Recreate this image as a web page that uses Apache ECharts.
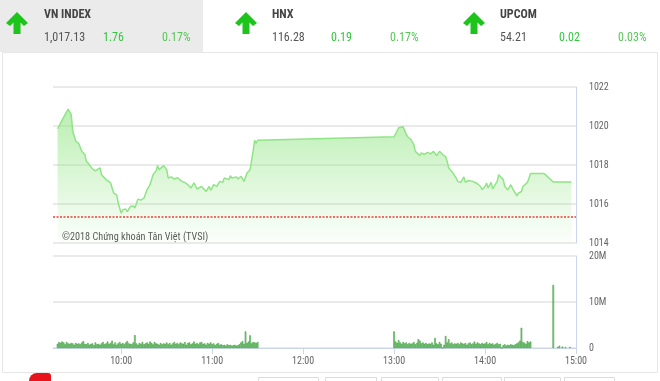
<!DOCTYPE html>
<html>
<head>
<meta charset="utf-8">
<script src="https://cdn.jsdelivr.net/npm/echarts@6/dist/echarts.min.js"></script>
<style>
html,body{margin:0;padding:0;background:#fff;}
#c{width:660px;height:381px;}
</style>
</head>
<body>
<div id="c"></div>
<script>
// ---------- DATA ----------
const timeTicks = ["10:00", "11:00", "12:00", "13:00", "14:00", "15:00"];
const priceTicks = [1014, 1016, 1018, 1020, 1022];
const volumeTicks = [0, 10, 20]; // millions
const refPrice = 1015.37;

const lineTimes = [
  "09:18","09:21","09:25","09:27","09:28","09:30","09:32","09:33","09:34","09:36",
  "09:37","09:39","09:41","09:43","09:44","09:46","09:47","09:50","09:53","09:54",
  "09:55","09:57","09:58","10:00","10:01","10:02","10:03","10:04","10:06","10:08",
  "10:09","10:11","10:13","10:15","10:17","10:19","10:21","10:23","10:24","10:25",
  "10:26","10:28","10:30","10:31","10:33","10:35","10:37","10:38","10:40","10:42",
  "10:44","10:46","10:48","10:50","10:51","10:53","10:56","10:58","10:59","11:01",
  "11:03","11:05","11:07","11:08","11:11","11:12","11:13","11:16","11:17","11:19",
  "11:21","11:23","11:25","11:27","11:28","11:29","11:30",
  "13:00","13:01","13:03","13:04","13:06","13:08","13:09","13:11","13:13","13:14",
  "13:17","13:18","13:20","13:22","13:24","13:26","13:28","13:30","13:32","13:34",
  "13:35","13:36","13:38","13:39","13:41","13:42","13:43","13:44","13:46","13:47",
  "13:49","13:52","13:55","13:57","13:58","14:00","14:01","14:02","14:04","14:05",
  "14:08","14:09","14:10","14:12","14:13","14:15","14:17","14:18","14:21","14:22",
  "14:24","14:25","14:26","14:28","14:29","14:30","14:39","14:45","14:57"
];
const lineValues = [
  1019.86,1020.30,1020.86,1020.60,1019.74,1019.22,1019.10,1019.05,1018.70,1018.54,
  1018.19,1018.02,1017.80,1017.70,1017.68,1017.85,1017.50,1017.25,1017.08,1017.16,
  1016.56,1016.47,1016.05,1015.53,1015.70,1015.60,1015.74,1015.61,1015.87,1015.90,
  1015.79,1016.25,1016.20,1016.30,1016.73,1016.99,1017.50,1017.70,1017.98,1017.76,
  1017.73,1017.97,1017.76,1017.33,1017.39,1017.28,1017.35,1017.33,1017.16,1017.10,
  1016.99,1016.82,1017.08,1016.77,1016.82,1016.90,1016.64,1016.90,1016.70,1016.99,
  1016.90,1017.16,1017.11,1017.33,1017.25,1017.45,1017.33,1017.39,1017.28,1017.42,
  1017.16,1017.59,1017.76,1018.70,1019.27,1019.10,1019.27,
  1019.45,1019.48,1019.91,1020.00,1019.96,1019.57,1019.45,1019.31,1019.05,1018.70,
  1018.48,1018.62,1018.54,1018.65,1018.57,1018.70,1018.48,1018.70,1018.54,1018.42,
  1018.19,1017.85,1017.68,1017.73,1017.33,1017.16,1017.25,1017.11,1017.39,1017.11,
  1017.21,1017.16,1017.04,1016.90,1016.73,1016.90,1017.08,1016.82,1017.11,1016.77,
  1017.16,1017.50,1017.50,1017.25,1016.90,1016.73,1016.99,1016.82,1016.42,1016.56,
  1016.64,1016.90,1016.82,1017.11,1017.33,1017.56,1017.56,1017.13,1017.13
];

// volume (millions), one bar per minute
const volMorningStart = "09:18";
const volMorning = [
  0.9,1.3,1.1,1.4,1.2,0.8,1.3,1.0,0.9,1.1,
  1.0,0.7,1.1,0.9,1.0,0.8,1.2,1.5,0.9,0.8,
  1.1,0.7,0.9,1.0,0.6,1.2,0.8,0.9,0.7,1.0,
  1.3,0.8,1.0,1.4,0.9,1.1,1.6,0.8,1.2,0.7,
  1.0,1.3,0.9,1.1,0.8,1.2,1.5,1.0,0.9,0.8,
  1.2,2.8,1.0,0.7,1.1,0.9,1.3,0.8,1.0,1.2,
  0.9,1.4,1.1,0.8,1.3,1.0,0.9,0.7,1.1,0.8,
  1.0,0.9,1.2,0.8,1.1,0.7,1.0,1.3,0.9,1.1,
  0.8,1.2,1.0,0.9,1.3,0.7,1.1,1.2,0.8,1.0,
  1.4,0.9,1.1,0.8,1.2,1.3,0.9,1.0,0.7,1.1,
  0.9,1.2,0.8,1.0,0.6,0.9,1.1,0.7,0.8,0.6,
  0.7,0.5,0.8,0.6,0.7,0.5,0.6,0.7,0.5,0.6,
  0.8,1.2,1.5,0.9,3.6,1.1,1.4,2.75,1.0,1.3,
  1.2,1.1,1.3
];
const volAfternoonStart = "13:00";
const volAfternoon = [
  3.6,1.4,1.1,1.7,1.2,0.9,1.3,1.0,1.2,0.8,
  1.1,0.9,1.0,1.3,0.8,1.1,1.9,1.6,1.0,1.2,
  0.9,1.1,0.8,1.0,0.9,1.2,0.7,2.2,1.0,0.8,
  1.3,0.9,0.0,0.7,2.6,1.2,1.9,1.0,1.2,0.8,
  1.0,0.9,1.1,0.8,1.2,1.0,0.9,1.1,0.7,1.0,
  1.2,0.8,1.0,1.4,0.9,1.2,1.0,0.8,1.1,0.9,
  1.0,1.3,0.8,1.1,0.9,1.0,0.7,0.9,1.1,0.8,
  0.9,0.0,0.6,0.8,0.5,0.7,0.6,0.8,0.7,0.6,
  0.8,1.0,1.2,1.6,4.4,1.3,1.1,0.9,1.5,1.2,
  1.4
];
const volCloseTimes = ["14:45","14:48","14:49","14:51","14:53","14:56"];
const volClose = [13.7,0.2,0.5,0.3,0.2,0.2];

// ---------- HELPERS ----------
const toMin = t => { const p = t.split(':').map(Number); return p[0] * 60 + p[1]; };
const fmtTime = v => String(Math.floor(v / 60)).padStart(2, '0') + ':' + String(v % 60).padStart(2, '0');

const lineData = lineTimes.map((t, i) => [toMin(t), lineValues[i]]);
const volData = [];
volMorning.forEach((v, i) => volData.push([toMin(volMorningStart) + i, v]));
volAfternoon.forEach((v, i) => volData.push([toMin(volAfternoonStart) + i, v]));
volCloseTimes.forEach((t, i) => volData.push([toMin(t), volClose[i]]));

const tickMins = timeTicks.map(toMin);
const X_MIN = toMin("09:15"), X_MAX = toMin("15:00");

const FONT = '"Liberation Sans Narrow", "Roboto Condensed", Roboto, sans-serif';
const AX = '#ccd6eb';

function arrow(cx, top, color) {
  return {
    type: 'polygon', silent: true,
    shape: { points: [[cx, top], [cx + 11, top + 11], [cx + 7, top + 14], [cx + 3.5, top + 10.5], [cx + 3.5, top + 22],
      [cx - 3.5, top + 22], [cx - 3.5, top + 10.5], [cx - 7, top + 14], [cx - 11, top + 11]] },
    style: { fill: color }
  };
}
function txt(x, y, s, opts) {
  return Object.assign({ type: 'text', silent: true, x: x, y: y,
    style: Object.assign({ text: s, font: '12px ' + FONT, fill: '#555', textVerticalAlign: 'middle' }, opts || {}) });
}

const header = [
  { name: 'VN INDEX', value: '1,017.13', chg: '1.76', pct: '0.17%', x: 44, ax: 17 },
  { name: 'HNX', value: '116.28', chg: '0.19', pct: '0.17%', x: 272, ax: 246 },
  { name: 'UPCOM', value: '54.21', chg: '0.02', pct: '0.03%', x: 500, ax: 474 }
];

const graphics = [
  { type: 'rect', silent: true, z: -10, shape: { x: 0, y: 0, width: 203, height: 52 }, style: { fill: '#ebebeb' } },
  { type: 'rect', silent: true, z: -10, shape: { x: 2.5, y: 52.5, width: 655, height: 320 }, style: { fill: 'none', stroke: '#e6e6e6', lineWidth: 1 } }
];
header.forEach(h => {
  graphics.push(arrow(h.ax, 12, '#1cc41c'));
  graphics.push(txt(h.x, 15, h.name, { font: 'bold 12px ' + FONT, fill: '#444' }));
  graphics.push(txt(h.x, 38, h.value, {}));
  graphics.push(txt(h.x + 59, 38, h.chg, { fill: '#33c740' }));
  graphics.push(txt(h.x + 118, 38, h.pct, { fill: '#55c955' }));
});
graphics.push(txt(62, 237, '©2018 Chứng khoán Tân Việt (TVSI)', { font: '10.2px ' + FONT, fill: '#555' }));
graphics.push({ type: 'rect', silent: true, shape: { x: 29, y: 373, width: 22, height: 9, r: [8, 3, 0, 0] }, style: { fill: '#e8141b' } });
[[258, 318], [325, 376], [381, 438], [442, 501], [504, 560], [564, 614]].forEach(r => {
  graphics.push({ type: 'rect', silent: true, shape: { x: r[0] + 0.5, y: 377.5, width: r[1] - r[0], height: 10 }, style: { fill: 'none', stroke: '#dcdcdc' } });
});

const chart = echarts.init(document.getElementById('c'), null, { renderer: 'canvas' });
chart.setOption({
  animation: false,
  backgroundColor: '#fff',
  textStyle: { fontFamily: FONT },
  graphic: graphics,
  grid: [
    { left: 53, top: 87, width: 523, height: 156, outerBoundsMode: 'none' },
    { left: 53, top: 256, width: 523, height: 92, outerBoundsMode: 'none' }
  ],
  xAxis: [
    { type: 'value', gridIndex: 0, min: X_MIN, max: X_MAX, axisLine: { show: false }, axisTick: { show: false }, axisLabel: { show: false }, splitLine: { show: false } },
    { type: 'value', gridIndex: 1, min: X_MIN, max: X_MAX,
      axisLine: { show: true, lineStyle: { color: AX, width: 1 } },
      axisTick: { show: true, length: 6, customValues: tickMins, lineStyle: { color: AX } },
      axisLabel: { customValues: tickMins, formatter: v => fmtTime(v), color: '#666', fontSize: 10, fontFamily: FONT, margin: 8 },
      splitLine: { show: false } }
  ],
  yAxis: [
    { type: 'value', gridIndex: 0, position: 'right', min: priceTicks[0], max: priceTicks[priceTicks.length - 1], interval: 2,
      axisLine: { show: true, lineStyle: { color: AX } }, axisTick: { show: false },
      axisLabel: { color: '#666', fontSize: 10, fontFamily: FONT, margin: 13, showMinLabel: true, showMaxLabel: true, formatter: v => String(v) },
      splitLine: { show: true, lineStyle: { color: '#e3e3e3', width: 1.5 } } },
    { type: 'value', gridIndex: 1, position: 'right', min: volumeTicks[0], max: volumeTicks[volumeTicks.length - 1], interval: 10,
      axisLine: { show: true, lineStyle: { color: AX } }, axisTick: { show: false },
      axisLabel: { color: '#666', fontSize: 10, fontFamily: FONT, margin: 13, formatter: v => v === 0 ? '0' : v + 'M' },
      splitLine: { show: true, lineStyle: { color: '#e3e3e3', width: 1.5 } } }
  ],
  series: [
    { type: 'line', xAxisIndex: 0, yAxisIndex: 0, data: lineData, showSymbol: false, symbol: 'none',
      lineStyle: { color: '#8fe585', width: 1.5 },
      areaStyle: { color: new echarts.graphic.LinearGradient(0, 0, 0, 1, [
        { offset: 0, color: 'rgba(140,228,125,0.85)' },
        { offset: 1, color: 'rgba(140,228,125,0.04)' }
      ]) },
      markLine: { silent: true, symbol: 'none', label: { show: false },
        lineStyle: { color: '#e8403a', type: [2, 1.5], width: 1.5 },
        data: [{ yAxis: refPrice }] } },
    { type: 'bar', xAxisIndex: 1, yAxisIndex: 1, data: volData, barWidth: 1.6,
      itemStyle: { color: '#8fd68f', borderColor: '#2a932a', borderWidth: 0.5 } }
  ]
});
</script>
</body>
</html>
